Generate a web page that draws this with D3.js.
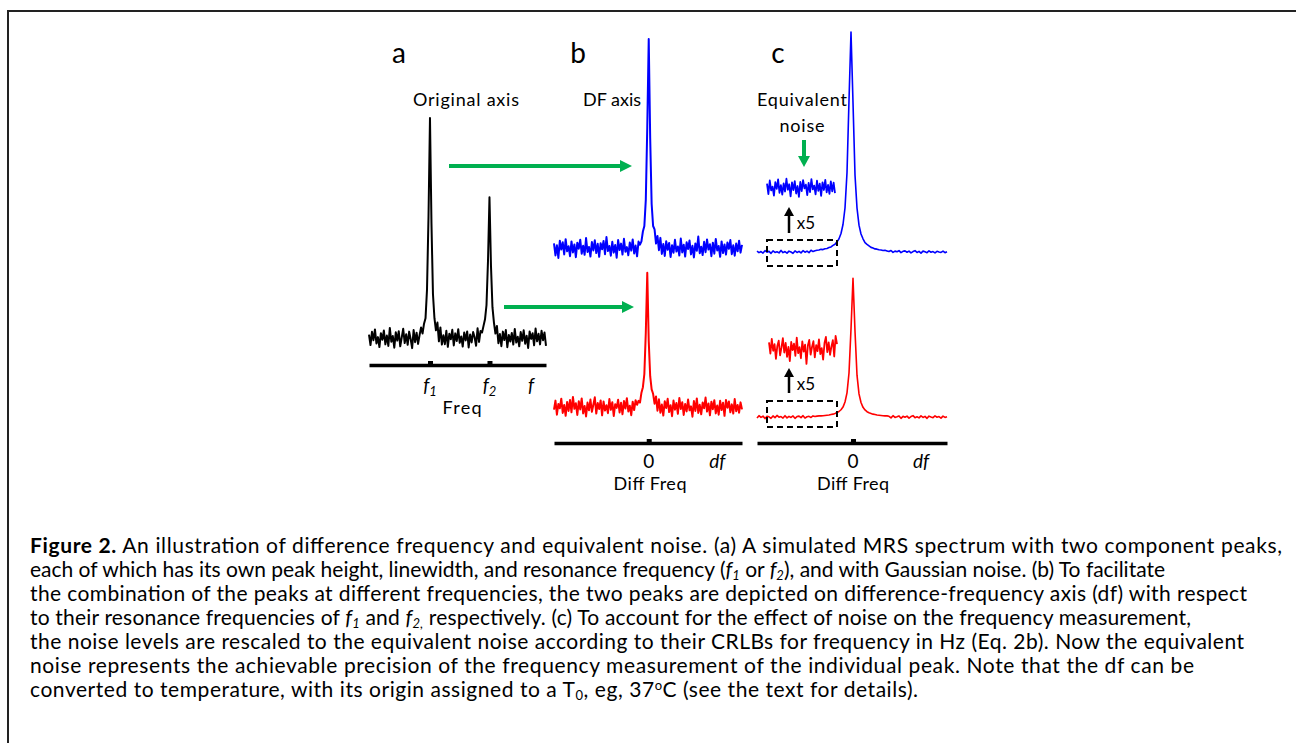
<!DOCTYPE html>
<html>
<head>
<meta charset="utf-8">
<script src="https://cdn.jsdelivr.net/npm/d3@7.9.0/dist/d3.min.js"></script>
<style>
  body { margin: 0; background: #fff; }
  svg { display: block; font-family: Lato, "Open Sans", sans-serif; }
</style>
</head>
<body>
<svg id="fig" width="1296" height="743"></svg>
<script>
// ===== DATA (heights in arbitrary units, 0 = baseline) =====
// (a) original spectrum, two peaks at f1 (index 41) and f2 (index 81)
const specA = [
  1.5, -3.2, 2.8, -1.0, 3.9, -2.5, 0.4, -4.1, 2.2, -0.8,
  3.4, -2.9, 1.1, -3.6, 4.6, -1.7, 0.9, -4.4, 2.6, -1.2,
  3.1, -3.8, 0.2, 4.2, -2.3, 1.7, -3.1, 2.9, -0.5, -4.6,
  3.6, -1.9, 2.4, -2.7, 1.3, 4.8,
  2.0, 6.5, 9.0, 22, 55, 100, 52, 20, 9.0, 3.5,
  7.0, -1.5, 4.8, -3.0, 1.2,
  -2.8, 3.3, -4.0, 1.9, -0.6, 3.7, -3.4, 2.1, -1.4, 4.0,
  -2.2, 0.7, -3.9, 2.5, -1.1, 3.0, -4.3, 1.6, -2.0, 2.7,
  0.3, -3.5, 4.4, -1.8, 3.2,
  2.5, 5.5, 8.5, 15, 35, 64, 33, 14, 7.0, 2.0,
  5.5, -2.4, 1.8, -3.7, 2.9, -0.9, 3.6, -4.2, 1.4, -1.6,
  2.3, -3.0, 4.1, -2.1, 0.6, -3.8, 2.7, -1.3, 3.5, -2.6,
  1.0, -4.5, 3.0, -0.4, 2.2, -3.3, 4.3, -1.5, 1.9, -2.9,
  3.3, -1.0, 2.5, -3.6
];

// (b) peaks on the difference-frequency axis, peak at index 65 / 64
const specB1 = [
  2.1, -3.4, 1.2, -4.5, 3.3, -0.7, 2.6, -2.9, 4.0, -1.5,
  0.8, -3.7, 3.0, -2.0, 1.6, -4.2, 2.4, -0.3, 3.8, -2.6,
  1.0, -3.1, 4.5, -1.8, 0.5, -3.9, 2.7, -1.1, 3.5, -2.3,
  1.9, -4.0, 2.2, -0.6, 3.2, -2.8, 5.0, -1.4, 0.9, -3.5,
  2.8, -2.1, 1.4, -4.4, 3.6, -0.9, 2.0, -3.0, 4.2, -1.7,
  0.4, -3.3, 2.5, -1.2, 3.9, -2.5, 1.1, -3.8, 2.9, 1.5,
  3.0, 7.5, 10, 22, 55, 95, 50, 20, 10, 8.5, 2.0,
  5.5, -1.0, 4.6, -2.7, 1.8, -3.6, 3.1, -0.8, 2.3, -4.1,
  1.3, -2.2, 3.7, -1.6, 0.7, -3.4, 4.3, -2.0, 1.5, -3.9,
  2.6, -0.5, 3.4, -2.9, 1.0, -4.3, 2.1, -1.3, 5.2, -2.4,
  0.6, -3.2, 2.8, -1.9, 3.9, -0.7, 1.7, -3.7, 2.4, -2.6,
  4.1, -1.1, 0.9, -4.0, 3.0, -2.3, 1.6, -3.0, 2.5, -0.4,
  3.6, -2.8, 1.2, -3.5, 2.0, -1.5, 3.3, -2.1, 1.4
];
const specB2 = [
  -1.2, 2.9, -3.5, 1.4, -0.6, 3.8, -2.7, 0.9, -4.0, 2.3,
  -1.8, 3.2, -2.4, 4.6, -0.8, 1.7, -3.6, 2.6, -1.1, 3.9,
  -2.9, 0.5, -4.3, 2.0, -1.5, 3.4, -2.2, 1.0, 4.4, -3.0,
  1.8, -0.9, 3.0, -3.8, 2.5, -1.6, 0.8, -2.8, 3.6, -1.3,
  2.2, -4.1, 1.3, -0.4, 3.3, -2.5, 1.9, -3.3, 2.7, -0.7,
  4.0, -2.0, 0.6, -3.7, 2.4, -1.4, 3.1, 1.0, 2.8,
  2.0, 6.5, 9.0, 15, 34, 61, 30, 14, 8.0, 6.0, 1.5,
  4.8, -1.7, 3.5, -2.6, 1.1, -3.9, 2.6, -0.5, 3.7, -2.3,
  0.8, -4.2, 2.9, -1.2, 1.8, -3.1, 4.1, -0.9, 2.2, -3.6,
  1.4, -2.0, 3.4, -1.5, 0.3, -4.4, 2.7, -1.8, 3.9, -2.7,
  1.0, -3.3, 2.0, -0.6, 4.3, -2.1, 1.6, -3.8, 2.4, -1.0,
  3.1, -2.9, 0.7, -3.5, 2.8, -1.4, 1.9, -4.0, 3.2, -0.3,
  2.5, -2.4, 1.2, -3.0, 3.6, -1.9, 0.9, -2.6, 2.1, -1.1
];

// (c) equivalent-noise spectra, peak at index 47 / 48
const specC1 = [
  0.4, -0.3, 0.2, -0.5, 0.6, -0.1, 0.3, -0.6, 0.5, -0.2,
  0.1, -0.4, 0.7, -0.3, 0.2, -0.5, 0.4, 0.0, -0.6, 0.5,
  -0.2, 0.3, -0.4, 0.6, -0.1, 0.4, -0.3, 0.8, 0.2, 0.6,
  0.8, 0.9, 1.2, 1.1, 1.5, 1.6, 2.0, 2.3, 3.0, 3.5, 4.6, 6.0, 8.4, 12.5, 20, 36, 69,
  100,
  68, 35, 20, 12.2, 8.2, 6.0, 4.3, 3.5, 2.8, 2.1, 1.8, 1.4, 1.3, 1.0, 0.9, 0.7, 0.8,
  0.5, 0.2, 0.7, -0.2, 0.4, 0.1, 0.6, -0.3, 0.3, 0.5,
  -0.1, 0.4, -0.4, 0.2, 0.6, -0.2, 0.3, -0.5, 0.4, 0.1,
  -0.3, 0.5, -0.1, 0.2, -0.4, 0.3, 0.0, -0.2, 0.4, -0.3, 0.1
];
const specC2 = [
  -0.5, 0.6, -0.2, 0.4, -0.7, 0.3, 0.1, -0.6, 0.5, -0.3,
  0.7, -0.1, 0.2, -0.5, 0.6, -0.4, 0.3, -0.2, 0.5, -0.6,
  0.2, 0.4, -0.3, 0.6, -0.5, 0.1, 0.3, -0.2, 0.5, 0.2, 0.4,
  0.5, 0.5, 0.6, 0.7, 0.8, 0.9, 1.1, 1.3, 1.6, 2.0, 2.5, 3.3, 4.5, 6.8, 11, 20, 40,
  63,
  39, 19, 10.5, 6.6, 4.4, 3.2, 2.4, 1.9, 1.6, 1.3, 1.1, 0.9, 0.8, 0.7, 0.6, 0.5, 0.5,
  0.3, -0.4, 0.6, -0.2, 0.1, 0.5, -0.6, 0.3, -0.1, 0.4,
  -0.5, 0.2, 0.6, -0.3, 0.1, -0.4, 0.5, -0.2, 0.3, -0.6,
  0.4, 0.0, -0.3, 0.5, -0.1, 0.2, -0.5, 0.4, -0.2, 0.1
];

// (c) insets: baseline noise magnified x5
const insetC1 = [
  2.0, -2.8, 3.4, -1.1, 0.6, -3.5, 2.7, -0.4, 3.9, -2.2,
  1.3, -3.0, 2.1, -1.6, 4.2, -0.8, 1.7, -3.8, 2.5, -1.0,
  3.1, -2.5, 0.9, -4.0, 2.8, -1.4, 3.6, -0.2, 1.5, -3.2,
  2.3, -1.9, 4.0, -0.6, 1.1, -2.9, 3.3, -1.3, 2.0, -3.6,
  2.6, -0.9, 3.7, -2.0, 1.4, -2.7, 3.0, -1.5, 2.4, -2.3
];
const insetC2 = [
  3.0, -2.1, 4.6, -0.8, 2.2, -4.5, 1.4, 3.8, -2.9, 0.7,
  4.9, -1.6, 2.8, -3.6, 1.0, -5.5, 3.2, -0.5, 2.4, -3.1,
  5.2, -1.9, 0.8, -4.2, 3.5, -1.2, 2.0, -6.8, 1.6, 4.1,
  -2.6, 0.9, 3.6, -3.8, 1.8, -1.0, 4.4, -2.3, 0.4, -4.8,
  2.7, 5.5, -1.4, 3.0, -2.7, 1.2, 4.0, -3.4, 6.0, 2.2
];

// tick positions (sample index) and their labels
const ticksA = [41, 81];
const ticksB = [65];
const ticksC = [48];
const tickLabelsA = [{ i: 41, t: "f", sub: "1", it: true }, { i: 81, t: "f", sub: "2", it: true }, { i: 109, t: "f", it: true }];
const tickLabelsB = [{ i: 65, t: "0" }, { i: 112, t: "df", it: true }];
const tickLabelsC = [{ i: 48, t: "0" }, { i: 82, t: "df", it: true }];

// caption
const captionLines = [
  [{ t: "Figure 2.", b: true }, { t: " An illustration of difference frequency and equivalent noise. (a) A simulated MRS spectrum with two component peaks," }],
  [{ t: "each of which has its own peak height, linewidth, and resonance frequency (" }, { t: "f", i: true }, { t: "1", i: true, sub: true }, { t: " or " }, { t: "f", i: true }, { t: "2", i: true, sub: true }, { t: "), and with Gaussian noise. (b) To facilitate" }],
  [{ t: "the combination of the peaks at different frequencies, the two peaks are depicted on difference-frequency axis (df) with respect" }],
  [{ t: "to their resonance frequencies of " }, { t: "f", i: true }, { t: "1", i: true, sub: true }, { t: " and " }, { t: "f", i: true }, { t: "2,", i: true, sub: true }, { t: " respectively. (c) To account for the effect of noise on the frequency measurement," }],
  [{ t: "the noise levels are rescaled to the equivalent noise according to their CRLBs for frequency in Hz (Eq. 2b). Now the equivalent" }],
  [{ t: "noise represents the achievable precision of the frequency measurement of the individual peak. Note that the df can be" }],
  [{ t: "converted to temperature, with its origin assigned to a T" }, { t: "0", sub: true }, { t: ", eg, 37" }, { t: "o", sup: true }, { t: "C (see the text for details)." }]
];
const captionEnds = [1282, 1165, 1247, 1191, 1244, 1194, 918];

// ===== LAYOUT =====
const svg = d3.select("#fig");
const k = 2.2; // px per height unit
const yAt = base => d3.scaleLinear().domain([0, 100]).range([base, base - 100 * k]);

const xA = d3.scaleLinear().domain([0, specA.length - 1]).range([369, 546]);
const xB = d3.scaleLinear().domain([0, specB1.length - 1]).range([554, 742]);
const xC = d3.scaleLinear().domain([0, specC1.length - 1]).range([757, 947]);
const xI1 = d3.scaleLinear().domain([0, insetC1.length - 1]).range([767, 835]);
const xI2 = d3.scaleLinear().domain([0, insetC2.length - 1]).range([769, 837]);

// frame
svg.append("path")
  .attr("d", "M8,743 V11 H1296")
  .attr("fill", "none")
  .attr("stroke", "#222")
  .attr("stroke-width", 2);

// ===== TRACES =====
const traces = [
  { data: specA, x: xA, y: yAt(338), color: "#000", w: 2 },
  { data: specB1, x: xB, y: yAt(248), color: "#0000ff", w: 2 },
  { data: specB2, x: xB, y: yAt(407), color: "#ff0000", w: 2 },
  { data: specC1, x: xC, y: yAt(252), color: "#0000ff", w: 1.6 },
  { data: specC2, x: xC, y: yAt(417), color: "#ff0000", w: 1.6 },
  { data: insetC1, x: xI1, y: yAt(188), color: "#0000ff", w: 1.8 },
  { data: insetC2, x: xI2, y: yAt(349), color: "#ff0000", w: 1.8 }
];

traces.forEach(tr => {
  const line = d3.line()
    .x((d, i) => tr.x(i))
    .y(d => tr.y(d));
  svg.append("path")
    .datum(tr.data)
    .attr("fill", "none")
    .attr("stroke", tr.color)
    .attr("stroke-width", tr.w)
    .attr("stroke-linejoin", "round")
    .attr("d", line);
});

// ===== AXES =====
function drawAxis(x, yPos, ticks, labels, labelY) {
  const g = svg.append("g")
    .attr("transform", `translate(0,${yPos})`)
    .call(d3.axisBottom(x).tickValues(ticks).tickSizeInner(-4).tickSizeOuter(0).tickFormat(""));
  g.select(".domain").attr("stroke", "#000").attr("stroke-width", 3.5);
  g.selectAll(".tick line").attr("stroke", "#000").attr("stroke-width", 5);

  labels.forEach(l => {
    const t = svg.append("text")
      .attr("x", x(l.i))
      .attr("y", labelY)
      .attr("text-anchor", "middle")
      .attr("font-size", "19px")
      .attr("font-style", l.it ? "italic" : "normal")
      .text(l.t);
    if (l.sub) {
      t.append("tspan")
        .attr("font-size", "13px")
        .attr("dy", 4)
        .text(l.sub);
    }
  });
}

drawAxis(xA, 365, ticksA, tickLabelsA, 392);
drawAxis(xB, 443, ticksB, tickLabelsB, 468);
drawAxis(xC, 443, ticksC, tickLabelsC, 468);

// ===== TEXT LABELS =====
const labels = [
  { x: 399, y: 63, t: "a", size: 28 },
  { x: 578, y: 63, t: "b", size: 28 },
  { x: 778, y: 63, t: "c", size: 28 },
  { x: 466, y: 106, t: "Original axis", size: 18, len: 106 },
  { x: 612, y: 106, t: "DF axis", size: 18, len: 58 },
  { x: 802, y: 106, t: "Equivalent", size: 18, len: 90 },
  { x: 802, y: 132, t: "noise", size: 18, len: 45 },
  { x: 462, y: 414, t: "Freq", size: 18, len: 39 },
  { x: 650, y: 490, t: "Diff Freq", size: 18, len: 73 },
  { x: 853, y: 490, t: "Diff Freq", size: 18, len: 72 },
  { x: 806, y: 229, t: "x5", size: 17 },
  { x: 806, y: 390, t: "x5", size: 17 }
];
labels.forEach(l => {
  const t = svg.append("text")
    .attr("x", l.x)
    .attr("y", l.y)
    .attr("text-anchor", "middle")
    .attr("font-size", l.size + "px")
    .text(l.t);
  if (l.len) t.attr("textLength", l.len).attr("lengthAdjust", "spacing");
});

// ===== ARROWS =====
const green = "#00b050";
function arrow(x1, y1, x2, y2, color, w, head, half) {
  const ang = Math.atan2(y2 - y1, x2 - x1);
  const bx = x2 - head * Math.cos(ang), by = y2 - head * Math.sin(ang);
  svg.append("line")
    .attr("x1", x1).attr("y1", y1).attr("x2", bx).attr("y2", by)
    .attr("stroke", color).attr("stroke-width", w);
  const px = -Math.sin(ang) * half, py = Math.cos(ang) * half;
  svg.append("path")
    .attr("d", `M${x2},${y2} L${bx + px},${by + py} L${bx - px},${by - py} Z`)
    .attr("fill", color);
}
arrow(449, 166, 632, 166, green, 4, 12, 6);
arrow(504, 307, 634, 307, green, 4, 12, 6);
arrow(804, 140, 804, 167, green, 4, 11, 6);
arrow(789, 233, 789, 207, "#000", 2.5, 9, 5);
arrow(789, 393, 789, 368, "#000", 2.5, 9, 5);

// dashed boxes over the magnified baseline regions
[[767, 240, 70, 26], [767, 401, 70, 26]].forEach(([bx, by, bw, bh]) => {
  svg.append("rect")
    .attr("x", bx).attr("y", by).attr("width", bw).attr("height", bh)
    .attr("fill", "none")
    .attr("stroke", "#000")
    .attr("stroke-width", 2)
    .attr("stroke-dasharray", "6 4");
});

// ===== CAPTION =====
captionLines.forEach((segs, li) => {
  const t = svg.append("text")
    .attr("x", 30)
    .attr("y", 553 + li * 24)
    .attr("font-size", "21px")
    .attr("textLength", captionEnds[li] - 30)
    .attr("lengthAdjust", "spacing");
  let shift = 0;
  segs.forEach(s => {
    const want = s.sub ? 3 : s.sup ? -7 : 0;
    const ts = t.append("tspan")
      .attr("dy", want - shift)
      .text(s.t);
    shift = want;
    if (s.b) ts.attr("font-weight", "bold");
    if (s.i) ts.attr("font-style", "italic");
    if (s.sub || s.sup) ts.attr("font-size", "13px");
  });
});
</script>
</body>
</html>
